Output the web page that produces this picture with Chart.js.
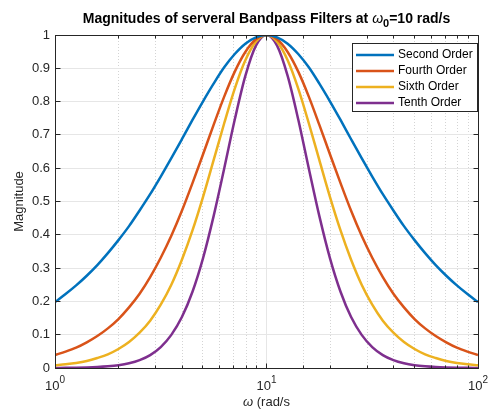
<!DOCTYPE html>
<html>
<head>
<meta charset="utf-8">
<script src="https://cdn.jsdelivr.net/npm/chart.js@4.4.0/dist/chart.umd.min.js"></script>
<style>
  html, body { margin: 0; padding: 0; background: #fff; }
</style>
</head>
<body>
<canvas id="myChart" width="488" height="412"></canvas>
<script>
// data (omega in rad/s, magnitude 0..1)
const omega = [1, 1.122, 1.259, 1.413, 1.585, 1.778, 1.995, 2.239, 2.512, 2.818, 3.162, 3.548, 3.981, 4.467, 5.012,
    5.623, 6.310, 7.079, 7.943, 8.913, 10, 11.22, 12.59, 14.13, 15.85, 17.78, 19.95, 22.39, 25.12, 28.18, 31.62,
    35.48, 39.81, 44.67, 50.12, 56.23, 63.10, 70.79, 79.43, 89.13, 100]
const secondOrder = [0.198, 0.222, 0.248, 0.277, 0.309, 0.345, 0.384, 0.426, 0.473, 0.522, 0.575, 0.630, 0.687, 0.745,
    0.801, 0.854, 0.903, 0.943, 0.974, 0.993, 1, 0.993, 0.974, 0.943, 0.903, 0.854, 0.801, 0.745, 0.687, 0.630, 0.575,
    0.522, 0.473, 0.426, 0.384, 0.345, 0.309, 0.277, 0.248, 0.222, 0.198]
const fourthOrder = [0.039, 0.049, 0.061, 0.077, 0.096, 0.119, 0.147, 0.182, 0.223, 0.273, 0.331, 0.397, 0.472, 0.555,
    0.642, 0.730, 0.815, 0.890, 0.949, 0.987, 1, 0.987, 0.949, 0.890, 0.815, 0.730, 0.642, 0.555, 0.472, 0.397, 0.331,
    0.273, 0.223, 0.182, 0.147, 0.119, 0.096, 0.077, 0.061, 0.049, 0.039]
const sixthOrder = [0.008, 0.011, 0.015, 0.021, 0.030, 0.041, 0.057, 0.078, 0.106, 0.142, 0.190, 0.250, 0.325, 0.413,
    0.514, 0.624, 0.735, 0.839, 0.924, 0.980, 1, 0.980, 0.924, 0.839, 0.735, 0.624, 0.514, 0.413, 0.325, 0.250, 0.190,
    0.142, 0.106, 0.078, 0.057, 0.041, 0.030, 0.021, 0.015, 0.011, 0.008]
const tenthOrder = [0.0003, 0.0005, 0.0009, 0.0016, 0.0028, 0.0049, 0.0083, 0.0141, 0.0236, 0.0388, 0.0629, 0.0995,
    0.153, 0.229, 0.330, 0.456, 0.599, 0.746, 0.877, 0.968, 1, 0.968, 0.877, 0.746, 0.599, 0.456, 0.330, 0.229, 0.153,
    0.0995, 0.0629, 0.0388, 0.0236, 0.0141, 0.0083, 0.0049, 0.0028, 0.0016, 0.0009, 0.0005, 0.0003]

const seriesNames = ['Second Order', 'Fourth Order', 'Sixth Order', 'Tenth Order']
const seriesColors = ['#0072BD', '#D95319', '#EDB120', '#7E2F8E']

const xTickValues = [1, 10, 100]
const xTickBase = ['10', '10', '10']
const xTickExp = ['0', '1', '2']

const axisColor = '#262626'
const fontFamily = '"Liberation Sans", Arial, Helvetica, sans-serif'

function toPoints(ys) {
    return omega.map((w, i) => ({ x: w, y: ys[i] }))
}

function isDecade(v) {
    const l = Math.log10(v)
    return Math.abs(l - Math.round(l)) < 1e-9
}

function align(p) {
    return Math.round(p - 0.5) + 0.5
}

// draws the matlab-like box, inward ticks, texts and legend
const matlabLook = {
    id: 'matlabLook',
    afterDraw(chart) {
        const { ctx, chartArea: a, scales: { x, y } } = chart
        const cx = (a.left + a.right) / 2
        ctx.save()

        // box
        ctx.strokeStyle = axisColor
        ctx.lineWidth = 1
        const l = align(a.left), r = align(a.right), t = align(a.top), b = align(a.bottom)
        ctx.beginPath()
        ctx.moveTo(l, t); ctx.lineTo(r, t); ctx.lineTo(r, b); ctx.lineTo(l, b); ctx.closePath()
        ctx.stroke()

        // inward ticks
        ctx.beginPath()
        x.ticks.forEach(tk => {
            const px = align(x.getPixelForValue(tk.value))
            const len = isDecade(tk.value) ? 5 : 3
            ctx.moveTo(px, b); ctx.lineTo(px, b - len)
            ctx.moveTo(px, t); ctx.lineTo(px, t + len)
        })
        y.ticks.forEach(tk => {
            const py = align(y.getPixelForValue(tk.value))
            ctx.moveTo(l, py); ctx.lineTo(l + 5, py)
            ctx.moveTo(r, py); ctx.lineTo(r - 5, py)
        })
        ctx.stroke()

        // x tick labels 10^n
        ctx.fillStyle = axisColor
        ctx.textBaseline = 'alphabetic'
        ctx.textAlign = 'left'
        xTickValues.forEach((v, i) => {
            const px = x.getPixelForValue(v)
            ctx.font = '13px ' + fontFamily
            const w1 = ctx.measureText(xTickBase[i]).width
            ctx.font = '10px ' + fontFamily
            const w2 = ctx.measureText(xTickExp[i]).width
            const start = px - (w1 + w2) / 2
            ctx.font = '13px ' + fontFamily
            ctx.fillText(xTickBase[i], start, 390)
            ctx.font = '10px ' + fontFamily
            ctx.fillText(xTickExp[i], start + w1, 383)
        })

        // x title
        ctx.font = 'italic 13px ' + fontFamily
        const wOm = ctx.measureText('ω').width
        ctx.font = '13px ' + fontFamily
        const wRest = ctx.measureText(' (rad/s').width
        let sx = cx - (wOm + wRest) / 2
        ctx.font = 'italic 13px ' + fontFamily
        ctx.fillText('ω', sx, 406)
        ctx.font = '13px ' + fontFamily
        ctx.fillText(' (rad/s', sx + wOm, 406)

        // y title
        ctx.save()
        ctx.translate(23, (a.top + a.bottom) / 2)
        ctx.rotate(-Math.PI / 2)
        ctx.textAlign = 'center'
        ctx.font = '13px ' + fontFamily
        ctx.fillText('Magnitude', 0, 0)
        ctx.restore()

        // title with subscript
        ctx.fillStyle = '#000'
        const parts = [
            { s: 'Magnitudes of serveral Bandpass Filters at ', f: 'bold 14px ', dy: 0 },
            { s: 'ω', f: 'italic 14px ', dy: 0 },
            { s: '0', f: 'bold 11px ', dy: 4 },
            { s: '=10 rad/s', f: 'bold 14px ', dy: 0 }
        ]
        let total = 0
        parts.forEach(p => { ctx.font = p.f + fontFamily; p.w = ctx.measureText(p.s).width; total += p.w })
        sx = cx - total / 2
        parts.forEach(p => {
            ctx.font = p.f + fontFamily
            ctx.fillText(p.s, sx, 23 + p.dy)
            sx += p.w
        })

        // legend
        const lx = 352, ly = 43, lw = 125, lh = 68
        ctx.fillStyle = '#fff'
        ctx.fillRect(lx, ly, lw, lh)
        ctx.strokeStyle = axisColor
        ctx.lineWidth = 1
        ctx.strokeRect(lx + 0.5, ly + 0.5, lw, lh)
        ctx.font = '12px ' + fontFamily
        ctx.textBaseline = 'middle'
        chart.data.datasets.forEach((ds, i) => {
            const rowY = 55 + i * 16
            ctx.strokeStyle = ds.borderColor
            ctx.lineWidth = 2.5
            ctx.beginPath()
            ctx.moveTo(356, rowY); ctx.lineTo(394, rowY)
            ctx.stroke()
            ctx.fillStyle = '#000'
            ctx.fillText(ds.label, 398, rowY)
        })
        ctx.restore()
    }
}

const datasets = [secondOrder, fourthOrder, sixthOrder, tenthOrder].map((ys, i) => ({
    label: seriesNames[i],
    data: toPoints(ys),
    borderColor: seriesColors[i],
    backgroundColor: seriesColors[i],
    borderWidth: 2.5,
    pointRadius: 0,
    cubicInterpolationMode: 'monotone',
    fill: false
}))

const config = {
    type: 'line',
    data: { datasets },
    options: {
        responsive: false,
        animation: false,
        devicePixelRatio: 1,
        layout: { padding: { top: 35, right: 10, left: 0, bottom: 0 } },
        plugins: {
            legend: { display: false },
            title: { display: false },
            tooltip: { enabled: false }
        },
        scales: {
            x: {
                type: 'logarithmic',
                min: 1,
                max: 100,
                ticks: { display: false, autoSkip: false },
                grid: {
                    drawTicks: false,
                    color: c => (c.tick && !isDecade(c.tick.value)) ? '#d4d4d4' : '#e6e6e6'
                },
                border: {
                    color: axisColor,
                    dash: c => (c.tick && !isDecade(c.tick.value)) ? [1, 2] : []
                },
                afterFit: s => { s.height = 44 }
            },
            y: {
                min: 0,
                max: 1,
                ticks: {
                    stepSize: 0.1,
                    padding: 5,
                    color: axisColor,
                    font: { family: fontFamily, size: 13 },
                    callback: v => String(+v.toFixed(1))
                },
                grid: { drawTicks: false, color: '#e6e6e6' },
                border: { color: axisColor },
                afterFit: s => { s.width = 55 }
            }
        }
    },
    plugins: [matlabLook]
}

const myChart = new Chart(document.getElementById('myChart'), config)
</script>
</body>
</html>
